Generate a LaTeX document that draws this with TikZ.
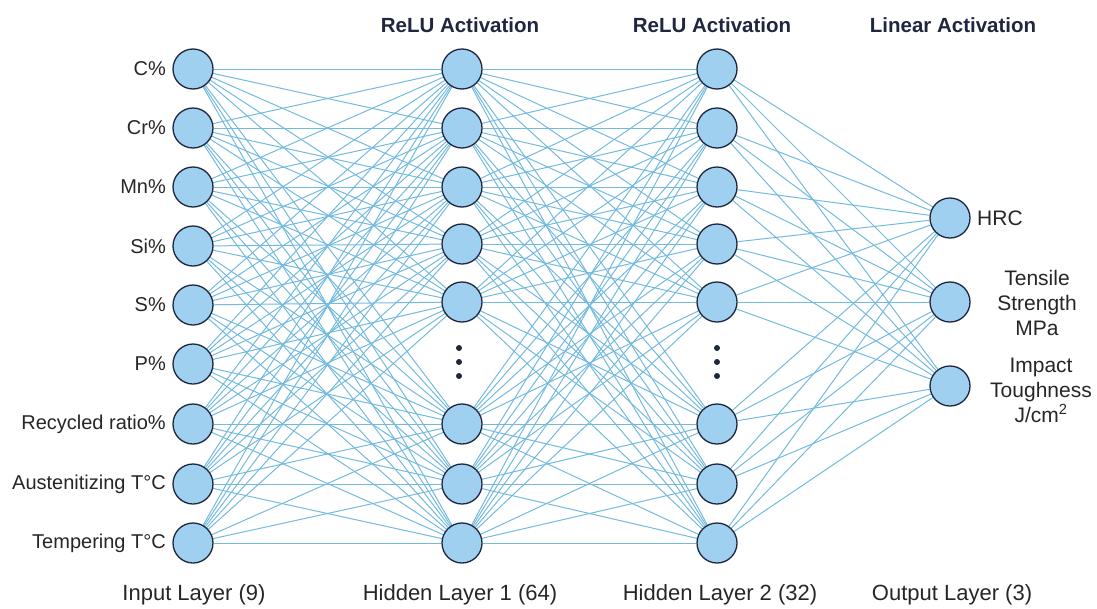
\documentclass[tikz,border=0pt]{standalone}
\usepackage{fontspec}
\setmainfont{Liberation Sans}
\usetikzlibrary{positioning,backgrounds}
\definecolor{nodeblue}{RGB}{160,208,240}
\definecolor{navy}{RGB}{30,38,64}
\definecolor{wireblue}{RGB}{115,186,222}

\begin{document}
\begin{tikzpicture}[x=1pt,y=-1pt,font=\fontsize{20}{22}\selectfont]

\tikzset{neuron/.style={circle,fill=nodeblue,draw=navy,line width=1.3pt,minimum size=40pt,inner sep=0pt},
wire/.style={wireblue,line width=1pt},
lbl/.style={text=black!85,font=\fontsize{20}{22}\selectfont},
titletext/.style={font=\bfseries\fontsize{20.5}{22}\selectfont,text=navy},
layername/.style={text=black!85,font=\fontsize{22}{24}\selectfont},
outtext/.style={text=black!85,align=center,font=\fontsize{21}{25}\selectfont},
vdot/.style={circle,fill=navy,inner sep=0pt,minimum size=6pt}}

\useasboundingbox (0,0) rectangle (1097,608);

% Input layer
\foreach \n/\y/\t in {1/69/C\%,2/128/Cr\%,3/187/Mn\%,4/246/Si\%,5/305/S\%,6/364/P\%,7/424/Recycled ratio\%,8/484/Austenitizing T°C,9/543/Tempering T°C}
  \node[neuron,label={[lbl,label distance=3pt]left:\t}] (in\n) at (193,\y) {};

% Hidden layers
\foreach \n/\y in {1/69,2/128,3/187,4/244,5/302,6/424,7/484,8/543} {
  \node[neuron] (ha\n) at (462,\y) {};
  \node[neuron] (hb\n) at (717,\y) {};
}
\foreach \y in {348,362,376} {\node[vdot] (da\y) at (459,\y) {}; \node[vdot] (db\y) at (717,\y) {};}

% Output layer
\node[neuron,label={[lbl,font=\fontsize{21}{22}\selectfont,label distance=3pt]right:HRC}] (out1) at (950,218) {};
\node[neuron] (out2) at (950,302) {};
\node[neuron] (out3) at (950,386) {};
\node[outtext] (tensile) at (1037,303) {Tensile\\Strength\\MPa};
\node[outtext] (impact) at (1041,390) {Impact\\Toughness\\J/cm\textsuperscript{2}};

% Wires
\begin{scope}[on background layer]
\foreach \i in {1,...,9} \foreach \j in {1,...,8} \draw[wire] (in\i) -- (ha\j);
\foreach \i in {1,...,8} \foreach \j in {1,...,8} \draw[wire] (ha\i) -- (hb\j);
\foreach \i in {1,...,8} \foreach \j in {1,2,3} \draw[wire] (hb\i) -- (out\j);
\end{scope}

% Activations
\node[titletext] (act1) at (460,25) {ReLU Activation};
\node[titletext] (act2) at (712,25) {ReLU Activation};
\node[titletext] (act3) at (953,25) {Linear Activation};

% Layer names
\node[layername] (name1) at (194,595) {Input Layer (9)};
\node[layername] (name2) at (460,595) {Hidden Layer 1 (64)};
\node[layername] (name3) at (720,595) {Hidden Layer 2 (32)};
\node[layername] (name4) at (952,595) {Output Layer (3)};

\end{tikzpicture}
\end{document}
